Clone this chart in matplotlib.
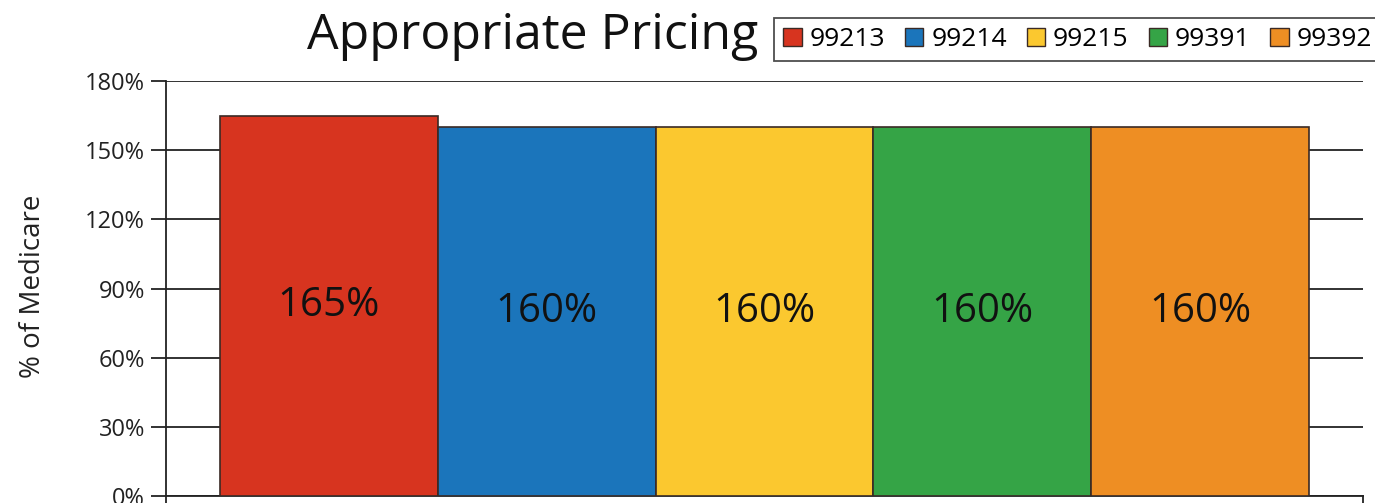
import matplotlib
matplotlib.use("Agg")
import matplotlib.pyplot as plt
from matplotlib.lines import Line2D
from matplotlib.patches import Patch

plt.rcParams['font.family'] = ['Open Sans', 'DejaVu Sans']

codes = ["99213", "99214", "99215", "99391", "99392"]
values = [165, 160, 160, 160, 160]
colors = ["#D7341F", "#1B75BB", "#FBC82F", "#35A446", "#EE8E23"]
yticks = [0, 30, 60, 90, 120, 150, 180]
title = "Appropriate Pricing"
ylabel = "% of Medicare"

fig = plt.figure(figsize=(13.75, 5.03), dpi=100)
ax = fig.add_axes([166/1375, 1-496/503, (1363-166)/1375, (496-81)/503])

x = list(range(len(codes)))
bars = ax.bar(x, values, width=1.0, color=colors, edgecolor="#3a2a25", linewidth=1.2, zorder=3)
for xi, v in zip(x, values):
    ax.text(xi, v/2, f"{v}%", ha="center", va="center", fontsize=29, color="#111111", zorder=4)

ax.set_xlim(-0.5-0.248, len(codes)-0.5+0.248)
ax.set_ylim(0, 180)
ax.set_yticks(yticks)
ax.set_yticklabels([f"{t}%" for t in yticks], fontsize=17, color="#222222")
ax.set_xticks([])
ax.tick_params(axis='y', length=11, width=1.3, color="#222222", pad=4)
ax.grid(axis='y', color="#222222", linewidth=1.3, zorder=0)
ax.set_axisbelow(True)
for s in ["top", "right"]:
    ax.spines[s].set_visible(False)
ax.spines["left"].set_color("#222222")
ax.spines["left"].set_linewidth(1.3)
ax.spines["bottom"].set_color("#222222")
ax.spines["bottom"].set_linewidth(1.3)
# category-axis box continues below the plot
for xa in (0, 1):
    ax.add_line(Line2D([xa, xa], [0, -0.03], transform=ax.transAxes, color="#222222",
                       linewidth=1.3, clip_on=False))

ax.set_ylabel(ylabel, fontsize=20, color="#222222")
ax.yaxis.set_label_coords(-0.099, 0.505)

fig.text(533/1375, 1-36/503, title, ha="center", va="center", fontsize=36, color="#111111")

handles = [Patch(facecolor=c, edgecolor="#3a2a25", linewidth=1.0) for c in colors]
leg = fig.legend(handles, codes, loc="upper left", bbox_to_anchor=(774/1375, 1-18/503),
                 ncol=5, fontsize=19, frameon=True, fancybox=False, handlelength=0.7,
                 handleheight=0.7, handletextpad=0.3, columnspacing=0.75,
                 borderpad=0.35, borderaxespad=0)
leg.get_frame().set_edgecolor("#222222")
leg.get_frame().set_linewidth(1.3)

fig.savefig("out.png", dpi=100)
